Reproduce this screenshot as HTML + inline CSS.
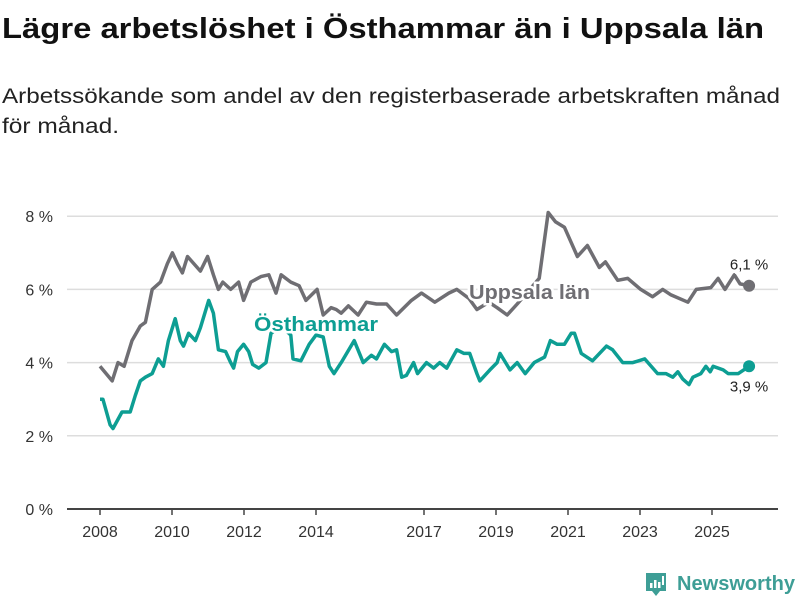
<!DOCTYPE html>
<html><head><meta charset="utf-8"><style>
body{margin:0;background:#fff;width:800px;height:600px;overflow:hidden;font-family:"Liberation Sans",sans-serif}
</style></head><body>
<svg width="800" height="600" xmlns="http://www.w3.org/2000/svg">
<text x="2" y="38" font-size="29" font-weight="bold" fill="#111" textLength="762" lengthAdjust="spacingAndGlyphs">Lägre arbetslöshet i Östhammar än i Uppsala län</text>
<text x="2" y="103" font-size="21" fill="#222" textLength="778" lengthAdjust="spacingAndGlyphs">Arbetssökande som andel av den registerbaserade arbetskraften månad</text>
<text x="2" y="133" font-size="21" fill="#222" textLength="117" lengthAdjust="spacingAndGlyphs">för månad.</text>
<g id="grid"></g><g id="lines"></g><g id="labels"></g>
<g>
<path d="M646 573 h20 v18 h-6 l-4 5 l-4 -5 h-6 z" fill="#3e9e96"/>
<rect x="650" y="583" width="2.5" height="5" fill="#fff"/><rect x="654" y="580" width="2.5" height="8" fill="#fff"/><rect x="658" y="582" width="2.5" height="6" fill="#fff"/><rect x="662" y="576" width="2" height="9" fill="#fff"/>
<text x="677" y="590" font-size="20" font-weight="bold" fill="#3e9e96" textLength="118" lengthAdjust="spacingAndGlyphs">Newsworthy</text>
</g>
</svg>
<script>
const yTicks=[0,2,4,6,8];
const xTickYears=[2008,2010,2012,2014,2017,2019,2021,2023,2025];
const uppsalaYears=[2008.00,2008.34,2008.50,2008.67,2008.89,2009.12,2009.26,2009.45,2009.68,2009.87,2010.01,2010.15,2010.29,2010.43,2010.79,2010.99,2011.15,2011.29,2011.41,2011.63,2011.85,2011.99,2012.19,2012.47,2012.69,2012.89,2013.03,2013.30,2013.53,2013.72,2014.03,2014.20,2014.42,2014.56,2014.70,2014.90,2015.17,2015.40,2015.68,2015.96,2016.24,2016.65,2016.93,2017.30,2017.69,2017.91,2018.25,2018.47,2018.80,2019.03,2019.31,2019.59,2020.20,2020.45,2020.65,2020.90,2021.26,2021.54,2021.87,2022.04,2022.38,2022.66,2023.02,2023.35,2023.63,2023.86,2024.33,2024.56,2024.97,2025.17,2025.36,2025.62,2025.78,2026.03];
const uppsalaValues=[3.9,3.5,4.0,3.9,4.6,5.0,5.1,6.0,6.2,6.7,7.0,6.7,6.45,6.9,6.5,6.9,6.4,6.0,6.2,6.0,6.2,5.7,6.2,6.35,6.4,5.9,6.4,6.2,6.1,5.7,6.0,5.3,5.5,5.45,5.35,5.55,5.3,5.65,5.6,5.6,5.3,5.7,5.9,5.65,5.9,6.0,5.75,5.45,5.65,5.5,5.3,5.6,6.3,8.1,7.85,7.7,6.9,7.2,6.6,6.75,6.25,6.3,6.0,5.8,6.0,5.85,5.65,6.0,6.05,6.3,6.0,6.4,6.15,6.1];
const osthammarYears=[2008.00,2008.08,2008.28,2008.36,2008.61,2008.84,2008.98,2009.12,2009.26,2009.45,2009.62,2009.76,2009.90,2010.09,2010.23,2010.32,2010.46,2010.65,2010.79,2011.02,2011.15,2011.29,2011.49,2011.63,2011.71,2011.82,2011.99,2012.13,2012.24,2012.41,2012.61,2012.75,2013.03,2013.30,2013.36,2013.58,2013.81,2014.00,2014.20,2014.37,2014.50,2014.70,2015.06,2015.31,2015.54,2015.68,2015.90,2016.10,2016.24,2016.38,2016.51,2016.71,2016.82,2017.07,2017.27,2017.44,2017.63,2017.91,2018.11,2018.27,2018.47,2018.55,2018.83,2019.03,2019.11,2019.39,2019.59,2019.81,2020.06,2020.35,2020.51,2020.70,2020.90,2021.09,2021.18,2021.37,2021.68,2022.07,2022.24,2022.52,2022.80,2023.13,2023.49,2023.72,2023.91,2024.05,2024.19,2024.36,2024.47,2024.69,2024.83,2024.95,2025.03,2025.31,2025.45,2025.73,2026.03];
const osthammarValues=[3.0,3.0,2.3,2.2,2.65,2.65,3.1,3.5,3.6,3.7,4.1,3.9,4.6,5.2,4.6,4.45,4.8,4.6,4.95,5.7,5.35,4.35,4.3,4.0,3.85,4.3,4.5,4.3,3.95,3.85,4.0,4.8,5.0,4.75,4.1,4.05,4.5,4.75,4.7,3.9,3.7,4.0,4.6,4.0,4.2,4.1,4.5,4.3,4.35,3.6,3.65,4.0,3.7,4.0,3.85,4.0,3.85,4.35,4.25,4.25,3.7,3.5,3.8,4.0,4.25,3.8,4.0,3.7,4.0,4.15,4.6,4.5,4.5,4.8,4.8,4.25,4.05,4.45,4.35,4.0,4.0,4.1,3.7,3.7,3.6,3.75,3.55,3.4,3.6,3.7,3.9,3.75,3.9,3.8,3.7,3.7,3.9];
const NS="http://www.w3.org/2000/svg";
const X=y=>100+(y-2008)*36;
const Y=v=>509-v*36.6;
function mk(tag,attrs,parent,text){const e=document.createElementNS(NS,tag);for(const k in attrs)e.setAttribute(k,attrs[k]);if(text!==undefined)e.textContent=text;document.getElementById(parent).appendChild(e);return e;}
yTicks.forEach(t=>{
 const l=mk('line',{x1:67,x2:778,y1:Y(t),y2:Y(t),stroke:t===0?'#444':'#ddd','stroke-width':t===0?2:1.5},'grid');
 
 
 const tx=mk('text',{x:53,y:Y(t)+6,'text-anchor':'end','font-size':16,fill:'#333'},'grid',t+' %');
 
 
});
xTickYears.forEach(yr=>{
 const l=mk('line',{x1:X(yr),x2:X(yr),y1:509,y2:515,stroke:'#444','stroke-width':1.5},'grid');
 
 
 const tx=mk('text',{x:X(yr),y:537,'text-anchor':'middle','font-size':16,fill:'#333'},'grid',String(yr));
 
 
});
function series(years,vals,color,name){
 const n=Math.min(years.length,vals.length)-1;
 let d='';
 for(let i=0;i<=n;i++)d+=(i?'L':'M')+X(years[i]).toFixed(1)+' '+Y(vals[i]).toFixed(1)+' ';
 const p=mk('path',{d:d,fill:'none',stroke:color,'stroke-width':3.5,'stroke-linejoin':'round'},'lines');
 
 
 const c=mk('circle',{cx:X(years[n]),cy:Y(vals[n]),r:6,fill:color},'lines');
 
 
 return [X(years[n]),Y(vals[n])];
}
const uEnd=series(uppsalaYears,uppsalaValues,'#6f6e73','uppsala');
const oEnd=series(osthammarYears,osthammarValues,'#0d9e93','osthammar');
function lbl(x,y,t,color,size,weight,name,anchor,len){
 const a={x:x,y:y,'font-size':size,'font-weight':weight,fill:color,stroke:'#fff','stroke-width':5,'paint-order':'stroke','text-anchor':anchor||'start'};
 if(len){a.textLength=len;a.lengthAdjust='spacingAndGlyphs';}
 const e=mk('text',a,'labels',t);
 
 
}
lbl(469,299,'Uppsala län','#6f6e73',20,'bold','uppsala-label','start',121);
lbl(254,331,'Östhammar','#0d9e93',20,'bold','osthammar-label','start',124);
lbl(uEnd[0],uEnd[1]-16,'6,1 %','#222',15,'normal','uppsala-end-value','middle');
lbl(oEnd[0],oEnd[1]+25,'3,9 %','#222',15,'normal','osthammar-end-value','middle');
</script>
</body></html>
